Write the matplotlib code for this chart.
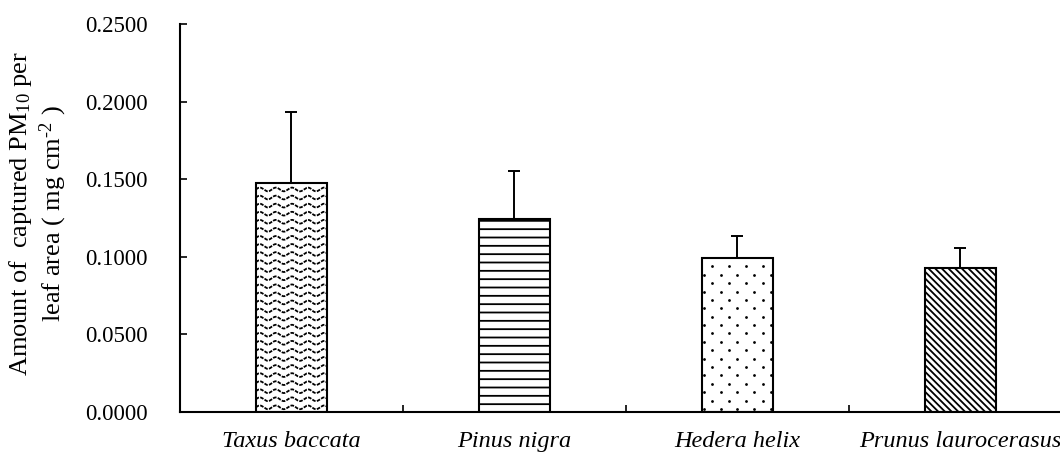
import numpy as np
import matplotlib
matplotlib.use("Agg")
from matplotlib import pyplot as plt

plt.rcParams['font.family'] = ['Liberation Serif', 'DejaVu Serif']
plt.rcParams['mathtext.fontset'] = 'custom'
plt.rcParams['mathtext.rm'] = 'Liberation Serif'
plt.rcParams['mathtext.it'] = 'Liberation Serif:italic'
plt.rcParams['hatch.linewidth'] = 1.3
plt.rcParams['hatch.color'] = 'black'

# PM10 captured per leaf area, mean and upper SD (mg cm^-2)
species = ['Taxus baccata', 'Pinus nigra', 'Hedera helix', 'Prunus laurocerasus']
means = [0.1475, 0.1244, 0.0990, 0.0930]
sds = [0.0458, 0.0311, 0.0146, 0.0127]

fig = plt.figure(figsize=(10.6, 4.54), dpi=100)
ax = fig.add_axes([0.1698, 0.0925, 0.8415, 0.8546])

x = np.arange(len(species))
bw = 0.32
bars = ax.bar(x, means, width=bw, color='white', edgecolor='black', linewidth=1.5,
              zorder=2)
ax.errorbar(x, means, yerr=[np.zeros(len(sds)), sds], fmt='none', ecolor='black',
            elinewidth=1.4, capsize=4.5, capthick=1.4, zorder=1)

# per-bar fill textures
bars[1].set_hatch('--')
bars[3].set_hatch('\\\\\\\\\\')

# wavy texture for the first bar
b0 = bars[0]
xs = np.linspace(b0.get_x(), b0.get_x() + bw, 400)
for yy in np.arange(0.003, means[0], 0.0052):
    ys = yy + 0.0012 * np.sin((xs - b0.get_x()) * 2 * np.pi / 0.072)
    ln, = ax.plot(xs, ys, color='black', lw=1.3, ls=(0, (2.0, 0.7)), zorder=3)
    ln.set_clip_path(b0)

# staggered dot texture for the third bar
b2 = bars[2]
dx, dy = 0.075, 0.0054
pts = []
for i, yy in enumerate(np.arange(0.002, means[2], dy)):
    off = 0.0 if i % 2 == 0 else dx / 2
    for xx in np.arange(b2.get_x() + 0.01 + off, b2.get_x() + bw, dx):
        pts.append((xx, yy))
pts = np.array(pts)
sc = ax.scatter(pts[:, 0], pts[:, 1], s=4, color='black', zorder=3, linewidths=0)
sc.set_clip_path(b2)

ax.set_xlim(-0.5, 3.5)
ax.set_ylim(0, 0.25)
ax.set_yticks(np.arange(0, 0.2501, 0.05))
ax.set_yticklabels([f'{v:.4f}' for v in np.arange(0, 0.2501, 0.05)])
ax.set_xticks(x)
ax.set_xticklabels(species, fontstyle='italic')
ax.set_xticks([0.5, 1.5, 2.5], minor=True)
ax.tick_params(axis='x', which='major', length=0, pad=14, labelsize=17.5)
ax.tick_params(axis='x', which='minor', direction='in', length=5, width=1.2)
ax.tick_params(axis='y', direction='in', length=5, width=1.2, labelsize=16.5, pad=23)

for side in ['top', 'right']:
    ax.spines[side].set_visible(False)
for side in ['left', 'bottom']:
    ax.spines[side].set_linewidth(1.5)

fig.text(38 / 1060, 1 - 214 / 454,
         'Amount of  captured PM$_{10}$ per\nleaf area ( mg cm$^{\\text{-}2}$ )',
         rotation=90, ha='center', va='center', multialignment='center',
         fontsize=19, linespacing=1.15)

fig.savefig('out.png', dpi=100, facecolor='white')
